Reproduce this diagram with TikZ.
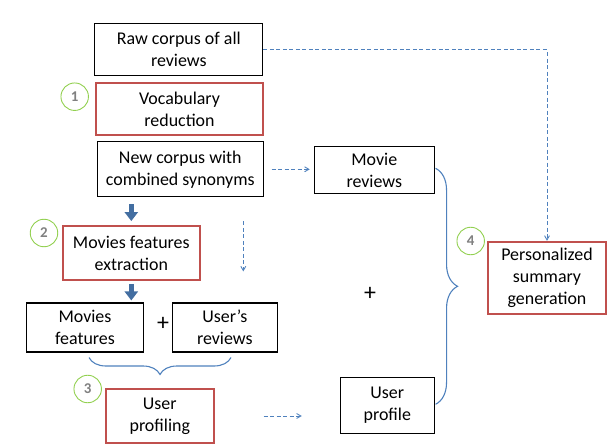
\documentclass[tikz,border=0pt]{standalone}
\usepackage{fontspec}
\setmainfont{Carlito}
\usepackage{xcolor}
\usetikzlibrary{arrows,arrows.meta,calc,decorations.pathreplacing,positioning,shapes}
\definecolor{stepred}{RGB}{192,80,77}
\definecolor{flowblue}{RGB}{79,129,189}
\definecolor{markgreen}{RGB}{146,208,80}
\definecolor{markgray}{RGB}{128,128,128}

\begin{document}
\begin{tikzpicture}[x=1bp,y=-1bp]
\tikzset{box/.style = {shape=rectangle,draw,line width=1.1bp,align=center,inner sep=0pt,font=\fontsize{18}{22}\selectfont}}
\tikzset{redbox/.style = {box,draw=stepred,line width=1.8bp}}
\tikzset{stepmark/.style = {shape=circle,draw=markgreen,line width=0.9bp,minimum size=27.5bp,inner sep=0pt,text=markgray,font=\fontsize{15}{15}\selectfont\bfseries}}
\tikzset{flow/.style = {->,> = angle 60,dashed,dash pattern=on 4bp off 2.5bp,draw=flowblue,line width=0.9bp}}
\tikzset{fatarrow/.style = {-{Triangle[length=9bp,width=13bp]},draw=flowblue!85!black,line width=5bp}}
\tikzset{bracket/.style = {draw=flowblue,line width=1.1bp,decorate,decoration={brace,amplitude=#1}}}
\useasboundingbox (0,0) rectangle (615,446);
\node[box,minimum width=168bp,minimum height=52bp] (raw) at (178.8,49.8) {Raw corpus of all\\reviews};
\node[redbox,minimum width=167bp,minimum height=52bp] (vocab) at (179.5,109) {Vocabulary\\reduction};
\node[box,minimum width=165.5bp,minimum height=55bp] (newc) at (180.3,169.3) {New corpus with\\combined synonyms};
\node[box,minimum width=120bp,minimum height=47.3bp] (movrev) at (374.3,170.3) {Movie\\reviews};
\node[redbox,minimum width=137.3bp,minimum height=54bp] (extract) at (131.3,253) {Movies features\\extraction};
\node[box,minimum width=116.7bp,minimum height=49bp] (movfeat) at (85,327.5) {Movies\\features};
\node[box,minimum width=105bp,minimum height=49bp] (userrev) at (224.8,327.5) {User’s\\reviews};
\node[redbox,minimum width=107.7bp,minimum height=53.7bp] (profiling) at (159.8,416) {User\\profiling};
\node[box,minimum width=94bp,minimum height=56bp] (profile) at (387.3,405.3) {User\\profile};
\node[redbox,minimum width=118.3bp,minimum height=72bp] (summary) at (547,277.7) {Personalized\\summary\\generation};
\node[stepmark] (m1) at (74.7,96.7) {1};
\node[stepmark] (m2) at (44,233) {2};
\node[stepmark] (m3) at (87.7,389) {3};
\node[stepmark] (m4) at (470.7,241) {4};
\node[font=\fontsize{24}{24}\selectfont] (plus1) at (163,324) {+};
\node[font=\fontsize{24}{24}\selectfont] (plus2) at (370,294) {+};
\coordinate (bl) at (89,357.5);
\coordinate (br) at (231,357.5);
\draw[fatarrow,shorten <=7bp,shorten >=4bp] (newc.south -| extract.north) to (extract.north);
\draw[fatarrow,shorten <=3bp,shorten >=2bp] (extract.south) to (extract.south |- movfeat.north);
\draw[flow] (raw.east) -| (summary.north);
\draw[flow,shorten <=8bp,shorten >=4bp] (newc.east) to (newc.east -| movrev.west);
\draw[flow,shorten <=24bp,shorten >=31bp] (newc.south -| 243.3,0) to (userrev.north -| 243.3,0);
\draw[flow,shorten <=49bp,shorten >=38bp] (profiling.east) to (profiling.east -| profile.west);
\draw[bracket=17bp] (br) to (bl);
\draw[bracket=22bp] ($(movrev.east)+(0.7,-2)$) to ($(profile.east)+(0.7,-1)$);
\end{tikzpicture}
\end{document}
